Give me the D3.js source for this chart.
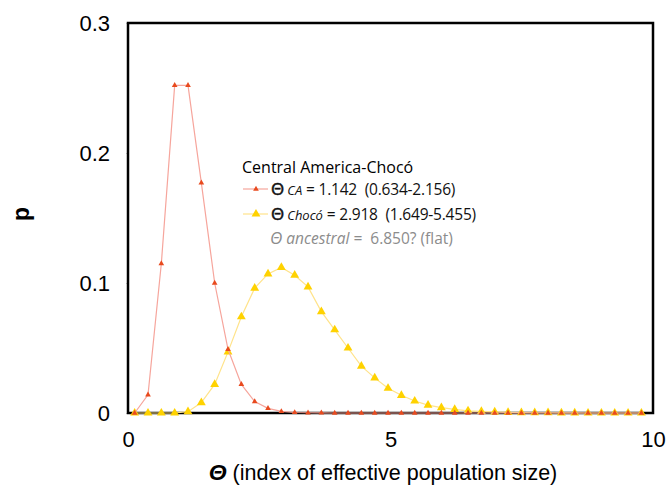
<!DOCTYPE html>
<html>
<head>
<meta charset="utf-8">
<script src="https://cdn.jsdelivr.net/npm/d3@7"></script>
<style>
  body { margin: 0; background: #fff; }
  text { white-space: pre; }
</style>
</head>
<body>
<svg id="chart" width="670" height="490"></svg>
<script>
// theta grid (bin midpoints)
const thetaGrid = [0.127, 0.381, 0.635, 0.889, 1.143, 1.397, 1.651, 1.905, 2.159, 2.413,
  2.667, 2.921, 3.175, 3.429, 3.683, 3.937, 4.191, 4.445, 4.699, 4.953,
  5.207, 5.461, 5.715, 5.969, 6.223, 6.477, 6.731, 6.985, 7.239, 7.493,
  7.747, 8.001, 8.255, 8.509, 8.763, 9.017, 9.271, 9.525, 9.779];

const probCA = [0.000, 0.014, 0.115, 0.252, 0.252, 0.177, 0.100, 0.049, 0.022, 0.0088,
  0.0036, 0.0012, 0.0004, 0.0002, 0.0001, 0, 0, 0, 0, 0,
  0, 0, 0, 0, 0, 0, 0, 0, 0, 0,
  0, 0, 0, 0, 0, 0, 0, 0, 0];

const probChoco = [0, 0, 0, 0, 0.001, 0.008, 0.022, 0.047, 0.074, 0.096,
  0.107, 0.112, 0.106, 0.097, 0.078, 0.064, 0.050, 0.036, 0.027, 0.019,
  0.0136, 0.0092, 0.0061, 0.0041, 0.0028, 0.0017, 0.0012, 0.0008, 0.0005, 0.0003,
  0.0002, 0.0002, 0.0001, 0.0001, 0, 0, 0, 0, 0];

const xTicks = [0, 5, 10];
const yTicks = [0, 0.1, 0.2, 0.3];
const yTickLabels = ["0", "0.1", "0.2", "0.3"];

const legendTitle = "Central America-Chocó";
const legendRows = [
  {sub: "CA", text: " = 1.142  (0.634-2.156)"},
  {sub: "Chocó", text: " = 2.918  (1.649-5.455)"}
];

const RED = "#e84a1e", RED_LINE = "#f6a59c";
const YEL = "#ffd200", YEL_LINE = "#ffe38a";

let svg = d3.select("#chart");
let pLeft = 128, pRight = 653, pTop = 23, pBottom = 413;

let x = d3.scaleLinear().domain([0, 10]).range([pLeft, pRight]);
let y = d3.scaleLinear().domain([0, 0.3]).range([pBottom, pTop]);

// axes
let xAxis = svg.append("g")
  .attr("transform", `translate(0,${pBottom})`)
  .call(d3.axisBottom(x).tickValues(xTicks).tickSize(0).tickPadding(18).tickFormat(d3.format("d")));
xAxis.select(".domain").remove();
xAxis.selectAll("text").attr("font-family", "Liberation Sans, Arial").attr("font-size", 22).attr("fill", "#000");

let yAxis = svg.append("g")
  .attr("transform", `translate(${pLeft},0)`)
  .call(d3.axisLeft(y).tickValues(yTicks).tickSize(2).tickPadding(16).tickFormat((d, i) => yTickLabels[i]));
yAxis.select(".domain").remove();
yAxis.selectAll("line").attr("stroke", "#ccc");
yAxis.selectAll("text").attr("font-family", "Liberation Sans, Arial").attr("font-size", 22).attr("fill", "#000").attr("dy", "0.36em");

// frame
svg.append("rect")
  .attr("x", pLeft).attr("y", pTop)
  .attr("width", pRight - pLeft).attr("height", pBottom - pTop)
  .attr("fill", "none").attr("stroke", "#000").attr("stroke-width", 2.5);

// series
let line = d3.line().x((d, i) => x(thetaGrid[i])).y(d => y(d));
let series = [
  {vals: probChoco, lc: YEL_LINE, mc: YEL, size: 34},
  {vals: probCA, lc: RED_LINE, mc: RED, size: 14}
];
series.forEach(s => {
  svg.append("path").datum(s.vals)
    .attr("d", line).attr("fill", "none")
    .attr("stroke", s.lc).attr("stroke-width", 1.2);
  svg.append("g").selectAll("path").data(s.vals).join("path")
    .attr("transform", (d, i) => `translate(${x(thetaGrid[i])},${y(d)})`)
    .attr("d", d3.symbol(d3.symbolTriangle, s.size))
    .attr("fill", s.mc);
});

// legend
let lg = svg.append("g").attr("font-family", "Open Sans, Lato, sans-serif");
lg.append("text").attr("x", 242).attr("y", 173).attr("font-size", 16).text(legendTitle);
legendRows.forEach((r, i) => {
  let yy = 195 + i * 25;
  let c = i == 0 ? series[1] : series[0];
  lg.append("line").attr("x1", 243).attr("x2", 268).attr("y1", yy - 6).attr("y2", yy - 6)
    .attr("stroke", c.lc).attr("stroke-width", 1.2);
  lg.append("path").attr("transform", `translate(256,${yy - 6})`)
    .attr("d", d3.symbol(d3.symbolTriangle, c.size)).attr("fill", c.mc);
  let t = lg.append("text").attr("x", 271).attr("y", yy).attr("fill", "#111");
  t.append("tspan").attr("font-size", 17).attr("stroke", "#111").attr("stroke-width", 0.5).text("Θ");
  t.append("tspan").attr("font-size", 13).attr("font-style", "italic").attr("dx", 3).text(r.sub);
  t.append("tspan").attr("font-size", 15.5).attr("letter-spacing", -0.2).text(r.text);
});
let anc = lg.append("text").attr("x", 270).attr("y", 244).attr("fill", "#8c8c8c");
anc.append("tspan").attr("font-size", 17).attr("font-style", "italic").text("Θ");
anc.append("tspan").attr("font-size", 15.5).attr("font-style", "italic").text(" ancestral = ");
anc.append("tspan").attr("font-size", 15.5).text(" 6.850? (flat)");

// axis titles
let xt = svg.append("text").attr("x", 383).attr("y", 480).attr("text-anchor", "middle")
  .attr("font-family", "Liberation Sans, Arial").attr("font-size", 21.5);
xt.append("tspan").attr("font-weight", "bold").attr("font-style", "italic").attr("font-size", 23).text("Θ");
xt.append("tspan").text(" (index of effective population size)");

svg.append("text").attr("transform", "translate(29,214) rotate(-90)")
  .attr("text-anchor", "middle").attr("font-family", "Liberation Sans, Arial")
  .attr("font-size", 23).attr("font-weight", "bold").text("p");
</script>
</body>
</html>
